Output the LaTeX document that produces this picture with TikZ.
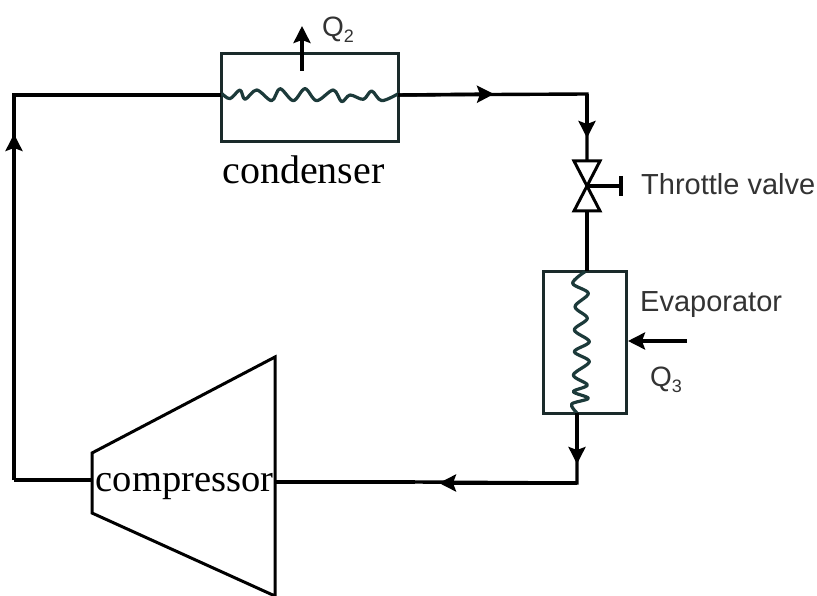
\documentclass[tikz,border=0pt]{standalone}
\usepackage{fontspec}
\setmainfont{Liberation Serif}
\newfontfamily\lsans{Liberation Sans}
\usetikzlibrary{arrows.meta,calc}
\definecolor{coilc}{HTML}{1C3A3A}
\definecolor{boxc}{HTML}{1A2A2A}
\definecolor{labc}{HTML}{333333}
\tikzset{
  pipe/.style={draw=black,line width=3.4pt},
  heavypipe/.style={draw=black,line width=4pt,line join=miter},
  flow/.style={pipe,-{Stealth[length=17pt,width=17pt,inset=3pt]}},
  unitbox/.style={draw=boxc,line width=3.2pt,inner sep=0pt,anchor=north west},
  coil/.style={draw=coilc,line width=3.2pt,line join=round},
  seriflab/.style={font=\fontsize{40}{40}\selectfont,text=black,inner sep=0pt,anchor=base},
  comptext/.style={font=\fontsize{38.5}{39}\selectfont,text=black,inner sep=0pt,anchor=base},
  sanslab/.style={font=\lsans\fontsize{29}{30}\selectfont,text=labc,inner sep=0pt,anchor=base west},
  qlab/.style={font=\lsans\fontsize{28}{30}\selectfont,text=labc,inner sep=0pt,anchor=base west},
  valve/.style={draw=black,line width=3pt,line join=miter},
}
\begin{document}
\begin{tikzpicture}[x=1pt,y=-1pt]
\useasboundingbox[fill=white] (0,0) rectangle (817,596);
% units
\node[unitbox,minimum width=177pt,minimum height=88pt] (cond) at (220,52) {};
\node[unitbox,minimum width=83pt,minimum height=142pt] (evap) at (542,270) {};
% compressor
\coordinate (ctr) at (275,357);
\coordinate (cbr) at (275,596);
\coordinate (ctl) at (92,453);
\coordinate (cbl) at (92,513);
\draw[line width=3pt,line join=miter] (ctl) -- (ctr) -- (cbr) -- (cbl) -- cycle;
\node[comptext] (comp) at (184.5,491) {compressor};
\node[seriflab] (condl) at (303.5,184) {condenser};
% coils
\begin{scope}[shift={(200,10)},x=0.3333pt,y=-0.3333pt]
\draw[coil] plot[smooth,tension=0.55] coordinates {(65,250)(90,266)(120,240)(135,268)(170,240)(215,272)(240,236)(280,272)(315,236)(350,272)(400,240)(425,275)(450,255)(490,268)(515,243)(545,272)(597,250)};
\end{scope}
\begin{scope}[shift={(530,260)},x=0.3333pt,y=-0.3333pt]
\draw[coil] plot[smooth,tension=0.55] coordinates {(165,35)(128,70)(175,100)(135,140)(172,175)(133,210)(178,245)(133,275)(178,305)(130,345)(172,375)(130,395)(175,415)(125,432)(140,458)};
\end{scope}
% pipe coordinates
\coordinate (tl) at (14,95);
\coordinate (bl) at (14,480);
\coordinate (upA) at (14,134);
\coordinate (cr) at (398,95);
\coordinate (midA) at (494,94);
\coordinate (tr) at (587,94);
\coordinate (downA) at (587,138);
\coordinate (vt) at (587,161);
\coordinate (vc) at (587,186);
\coordinate (vb) at (587,211);
\coordinate (vh) at (621,186);
\coordinate (ev) at (587,271);
\coordinate (eo) at (577,413);
\coordinate (eoA) at (577,464);
\coordinate (be) at (577,483);
\coordinate (leftA) at (439,483);
\coordinate (thick) at (415,482);
\coordinate (cout) at (275,482);
\coordinate (cin) at (92,480);
\coordinate (cl) at (221,95);
% pipes
\draw[pipe] (cr) -- (tr) -- (vt);
\draw[flow] (cr) -- (midA);
\draw[flow] (tr) -- (downA);
\draw[pipe] (vb) -- (ev);
\draw[pipe] (eo) -- (be) -- (thick);
\draw[heavypipe] (thick) -- (cout);
\draw[flow] (eo) -- (eoA);
\draw[flow] (be) -- (leftA);
\draw[pipe] (bl) -- (tl) -- (cl);
\draw[heavypipe] (cin) -- (bl);
\draw[flow] (bl) -- (upA);
% valve
\draw[valve] (vc) -- ($(vt)+(-13,0)$) -- ($(vt)+(13,0)$) -- cycle;
\draw[valve] (vc) -- ($(vb)+(-13,0)$) -- ($(vb)+(13,0)$) -- cycle;
\draw[pipe] (vc) -- (vh);
\draw[pipe] ($(vh)+(0,-10)$) -- ($(vh)+(0,10)$);
% heat arrows
\coordinate (q2a) at (302,71);
\coordinate (q2b) at (302,26);
\draw[flow] (q2a) -- (q2b);
\coordinate (q3a) at (687,341);
\coordinate (q3b) at (628,341);
\draw[flow] (q3a) -- (q3b);
% labels
\node[qlab] (q2) at (322,37) {Q\raisebox{-6pt}{\fontsize{18}{18}\selectfont 2}};
\node[qlab] (q3) at (650,386) {Q\raisebox{-6pt}{\fontsize{18}{18}\selectfont 3}};
\node[sanslab] (tv) at (641,195) {Throttle valve};
\node[sanslab] (evl) at (640,311) {Evaporator};
\end{tikzpicture}
\end{document}
